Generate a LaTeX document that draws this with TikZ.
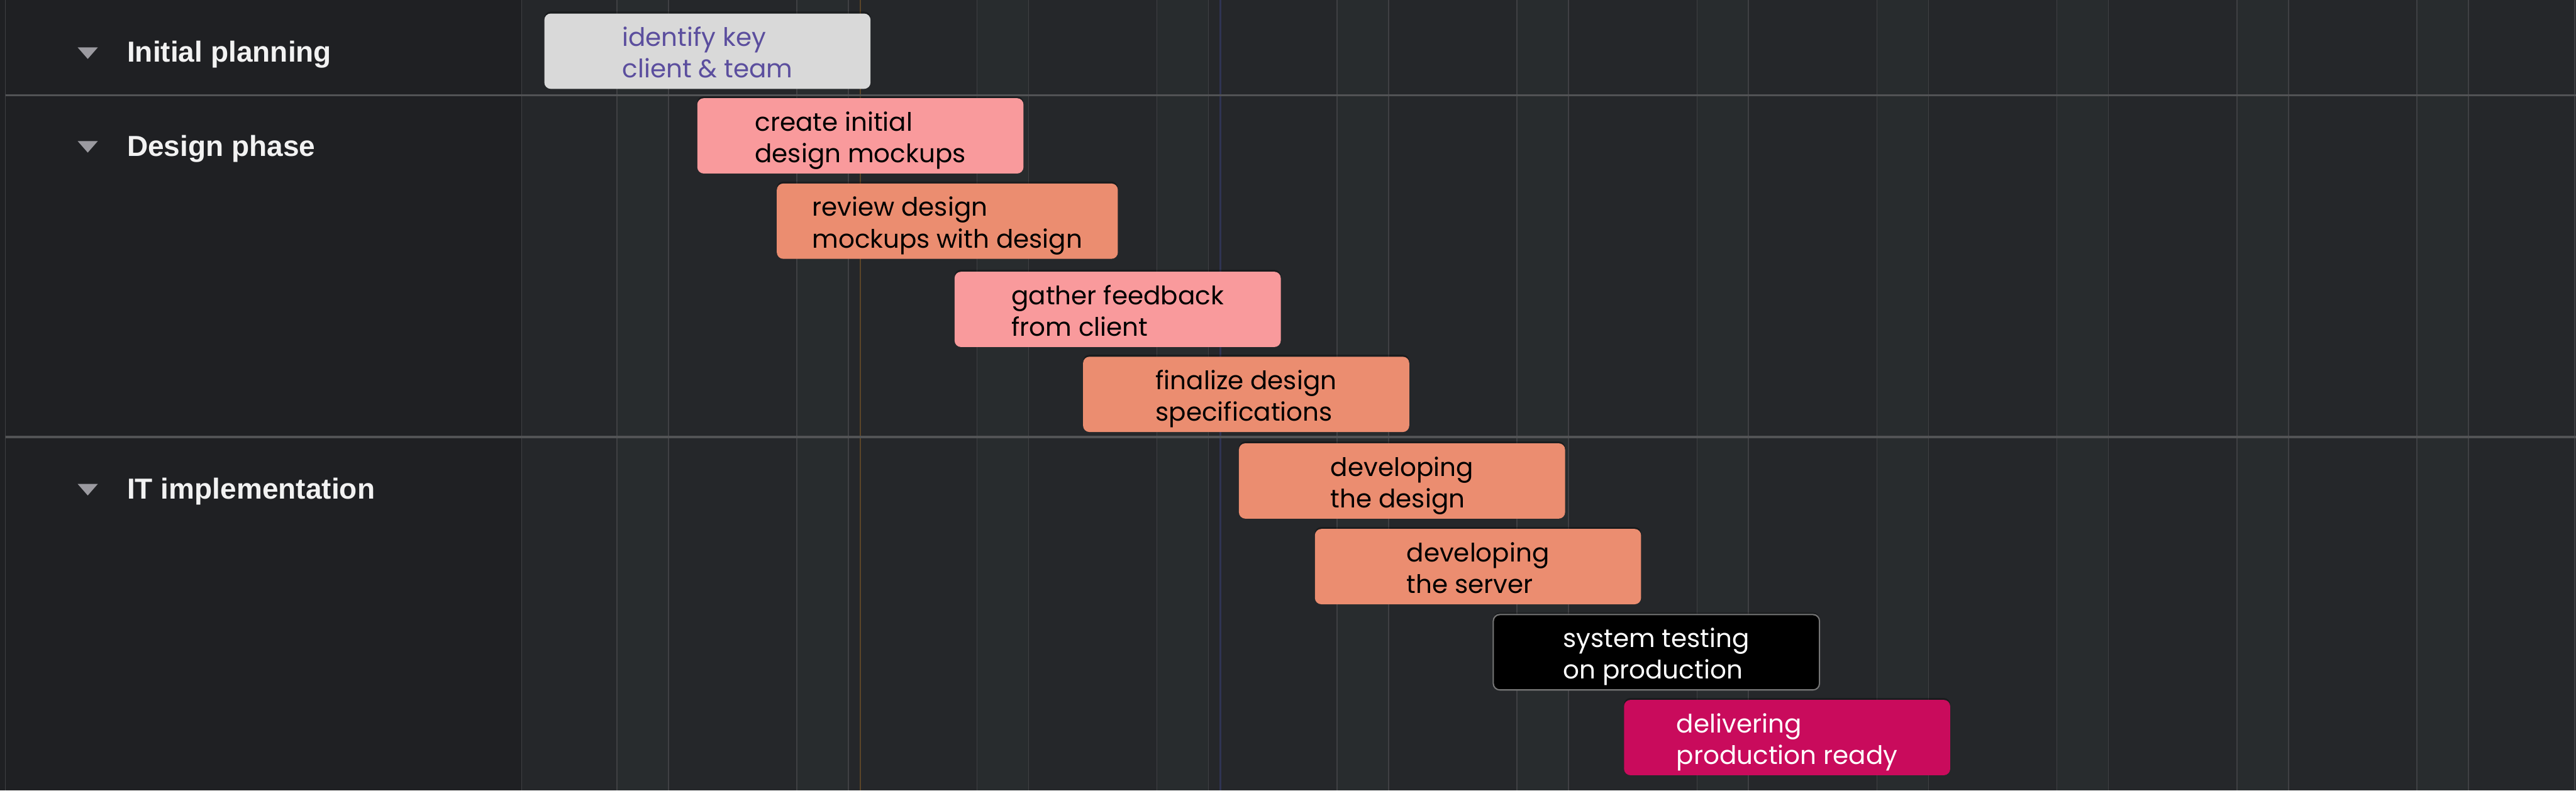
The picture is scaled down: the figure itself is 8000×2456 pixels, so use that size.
\documentclass[tikz,border=0pt]{standalone}
\usepackage{fontspec}
\setmainfont{Poppins}
\newfontfamily\fuenteGrupo{Liberation Sans}
\usetikzlibrary{positioning, shadows}
\definecolor{fondoPanel}{HTML}{1F2023}
\definecolor{fondoGrilla}{HTML}{25272A}
\definecolor{franjaGrilla}{HTML}{282C2E}
\definecolor{lineaGrilla}{HTML}{3F4043}
\definecolor{lineaSeparador}{HTML}{525355}
\definecolor{grisFlecha}{HTML}{9B9AA0}
\definecolor{textoGrupo}{HTML}{F2F2F2}
\definecolor{grisTarea}{HTML}{D9D9D9}
\definecolor{moradoTexto}{HTML}{5B4E9E}
\definecolor{rosaTarea}{HTML}{F99A9C}
\definecolor{salmonTarea}{HTML}{EB8D70}
\definecolor{bordeNegro}{HTML}{767676}
\definecolor{magentaTarea}{HTML}{C90B5C}
\definecolor{marcaHoy}{HTML}{5C4528}
\definecolor{marcaAzul}{HTML}{2F3452}
% dos renglones con altura fija
\newcommand\renglones[2]{\rule{0pt}{9.25mm}#1\\#2\rule[-2.5mm]{0pt}{2.5mm}}
\tikzset{
  barraBase/.style={
    rounded corners=2mm, inner sep=0pt,
    minimum height=23.4mm, minimum width=101.3mm,
    align=left, font=\fontsize{22.5}{27.9}\selectfont, text=black,
    drop shadow={shadow xshift=0mm, shadow yshift=0.6mm, opacity=0.3, fill=black}
  },
  barraGris/.style={barraBase, fill=grisTarea, text=moradoTexto},
  barraRosa/.style={barraBase, fill=rosaTarea},
  barraSalmon/.style={barraBase, fill=salmonTarea},
  barraNegra/.style={barraBase, fill=black, draw=bordeNegro, line width=0.4mm, text=white},
  barraMagenta/.style={barraBase, fill=magentaTarea, text=white},
  etiquetaGrupo/.style={anchor=base west, inner sep=0pt, text=textoGrupo,
    font=\fuenteGrupo\bfseries\fontsize{25.6}{30}\selectfont},
  lineaVertical/.style={lineaGrilla, line width=0.3mm},
  separador/.style={lineaSeparador, line width=0.7mm},
}

\begin{document}
\begin{tikzpicture}[x=0.1mm, y=-0.1mm]
  \useasboundingbox (0,0) rectangle (8000,2456);
  % fondos y grilla
  \fill[fondoPanel] (0,0) rectangle (1620,2456);
  \fill[fondoGrilla] (1620,0) rectangle (8000,2456);
  \foreach \i in {0,...,10} {
    \fill[franjaGrilla] ({1916+559*\i},0) rectangle ({2076+559*\i},2456);
    \draw[lineaVertical] ({1916+559*\i},0) -- ({1916+559*\i},2456);
    \draw[lineaVertical] ({2076+559*\i},0) -- ({2076+559*\i},2456);
  }
  \draw[lineaVertical] (1620,0) -- (1620,2456);
  \draw[lineaVertical] (17,0) -- (17,2456);
  \draw[lineaVertical] (7996,0) -- (7996,2456);
  \draw[marcaHoy, line width=0.4mm] (2671,0) -- (2671,2456);
  \draw[marcaAzul, line width=0.4mm] (3790,0) -- (3790,2456);
  \draw[separador] (17,296) -- (8000,296);
  \draw[separador] (17,1357) -- (8000,1357);

  % grupos
  \foreach \yc/\yb/\nombre/\texto in {165/193/grupoA/Initial planning,
      456/486/grupoB/Design phase, 1521/1550/grupoC/IT implementation} {
    \fill[grisFlecha] (241,{\yc-18}) -- (304,{\yc-18}) -- (272.5,{\yc+18}) -- cycle;
    \node[etiquetaGrupo] (\nombre) at (394,\yb) {\texto};
  }

  % tareas
  \node[barraGris] (identificar) at (2197,159) {\renglones{identify key}{client \& team}};
  \node[barraRosa] (maquetas) at (2672,422) {\renglones{create initial}{design mockups}};
  \node[barraSalmon, minimum width=105.9mm] (revision) at (2942,687) {\renglones{review design}{mockups with design}};
  \node[barraRosa] (retro) at (3471,961) {\renglones{gather feedback}{from client}};
  \node[barraSalmon] (especificar) at (3870,1225) {\renglones{finalize design}{specifications}};
  \node[barraSalmon] (desDiseno) at (4354,1494) {\renglones{developing}{the design}};
  \node[barraSalmon] (desServidor) at (4590,1760) {\renglones{developing}{the server}};
  \node[barraNegra] (pruebas) at (5144,2026) {\renglones{system testing}{on production}};
  \node[barraMagenta] (entrega) at (5550,2291) {\renglones{delivering}{production ready}};
\end{tikzpicture}
\end{document}
